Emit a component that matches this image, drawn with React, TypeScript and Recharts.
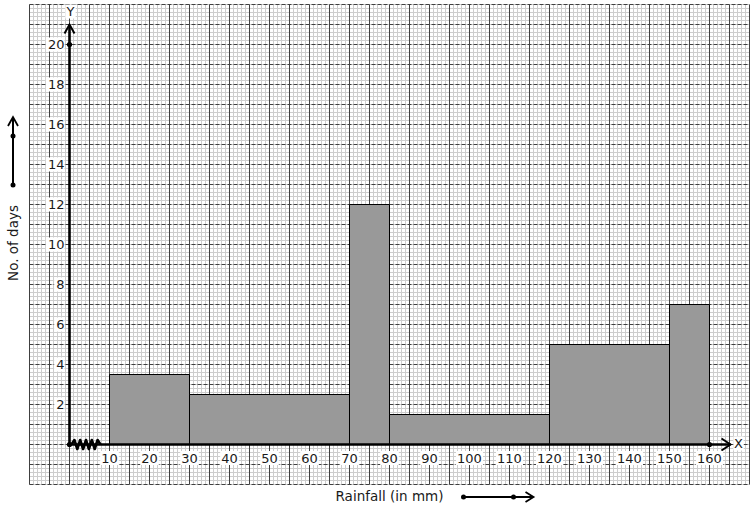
import React from 'react';
import { ComposedChart, XAxis, YAxis, ReferenceLine, ReferenceArea, ReferenceDot, Line } from 'recharts';

// ---- data ----
const binStarts = [10, 30, 70, 80, 120, 150];
const binEnds = [30, 70, 80, 120, 150, 160];
const days = [3.5, 2.5, 12, 1.5, 5, 7];
const xTickLabels = [10, 20, 30, 40, 50, 60, 70, 80, 90, 100, 110, 120, 130, 140, 150, 160];
const yTickLabels = [2, 4, 6, 8, 10, 12, 14, 16, 18, 20];
const xTitle = 'Rainfall (in mm)';
const yTitle = 'No. of days';

const X_MIN = -10;
const X_MAX = 170;
const Y_MIN = -2;
const Y_MAX = 22;

const range = (a: number, b: number, step: number) => {
  const out: number[] = [];
  const n = Math.round((b - a) / step);
  for (let i = 0; i <= n; i++) out.push(+(a + i * step).toFixed(4));
  return out;
};

const minorX = range(X_MIN, X_MAX, 1);
const majorX = range(X_MIN, X_MAX, 5);
const minorY = range(Y_MIN, Y_MAX, 0.2);
const majorY = range(Y_MIN, Y_MAX, 1);

const rows = binStarts.map((s, i) => ({ x: (s + binEnds[i]) / 2, y: days[i] }));

const FONT = '"DejaVu Sans", sans-serif';
const TXT = '#1a1a1a';

const boxText = (x: number, y: number, text: string, anchor: 'start' | 'middle' | 'end', size = 13) => {
  const w = String(text).length * size * 0.64 + 2;
  const h = size + 1;
  let left = x - w / 2;
  if (anchor === 'end') left = x - w;
  if (anchor === 'start') left = x;
  return (
    <g>
      <rect x={left} y={y - h / 2} width={w} height={h} fill="#fff" />
      <text x={x} y={y} textAnchor={anchor} dominantBaseline="central" fontFamily={FONT} fontSize={size} fill={TXT}>
        {text}
      </text>
    </g>
  );
};

// graph paper drawn inside the full-domain reference area
const Paper = (p: any) => {
  const { x, y, width, height } = p;
  const sx = (v: number) => x + ((v - X_MIN) / (X_MAX - X_MIN)) * width;
  const sy = (v: number) => y + ((Y_MAX - v) / (Y_MAX - Y_MIN)) * height;
  return (
    <g>
      <rect x={x} y={y} width={width} height={height} fill="#fff" />
      {minorX.map((v) => (
        <line key={'mx' + v} x1={sx(v)} x2={sx(v)} y1={y} y2={y + height} stroke="#cdcdcd" strokeWidth={1} />
      ))}
      {minorY.map((v) => (
        <line key={'my' + v} x1={x} x2={x + width} y1={sy(v)} y2={sy(v)} stroke="#cdcdcd" strokeWidth={1} />
      ))}
      {majorY.map((v) => (
        <line key={'My' + v} x1={x} x2={x + width} y1={sy(v)} y2={sy(v)} stroke="#404040" strokeWidth={1} strokeDasharray="4 2" />
      ))}
      {majorX.map((v) => (
        <line key={'Mx' + v} x1={sx(v)} x2={sx(v)} y1={y} y2={y + height} stroke="#404040" strokeWidth={1} />
      ))}
    </g>
  );
};

const YTitle = (props: any) => {
  const vb = props.viewBox || { x: 0, y: 0, width: 0, height: 0 };
  const cx = vb.x + 12.5;
  const cy = 243;
  return (
    <g>
      <text x={cx} y={cy} transform={`rotate(-90 ${cx} ${cy})`} textAnchor="middle" dominantBaseline="central" fontFamily={FONT} fontSize={13.5} fill={TXT}>
        {yTitle}
      </text>
      <line x1={cx} y1={185} x2={cx} y2={118} stroke="#000" strokeWidth={2} />
      <circle cx={cx} cy={185} r={2.5} fill="#000" />
      <circle cx={cx} cy={136} r={2.5} fill="#000" />
      <polyline points={`${cx - 5},${126} ${cx},${117} ${cx + 5},${126}`} fill="none" stroke="#000" strokeWidth={1.8} />
    </g>
  );
};

const XTitle = (props: any) => {
  const vb = props.viewBox || { x: 0, y: 0, width: 0, height: 0 };
  const cx = vb.x + 360;
  const cy = 496;
  const ax = vb.x + 434;
  return (
    <g>
      <text x={cx} y={cy} textAnchor="middle" dominantBaseline="central" fontFamily={FONT} fontSize={13.5} fill={TXT}>
        {xTitle}
      </text>
      <line x1={ax} y1={497} x2={ax + 69} y2={497} stroke="#000" strokeWidth={2} />
      <circle cx={ax} cy={497} r={2.5} fill="#000" />
      <circle cx={ax + 50} cy={497} r={2.5} fill="#000" />
      <polyline points={`${ax + 62},${492} ${ax + 70},${497} ${ax + 62},${502}`} fill="none" stroke="#000" strokeWidth={1.8} />
    </g>
  );
};

const Zigzag = (p: any) => {
  const { cx, cy } = p;
  const pts: string[] = [];
  for (let i = 0; i <= 10; i++) {
    const x = cx + 2 + i * 2.9;
    const y = i === 0 || i === 10 ? cy : cy + (i % 2 === 0 ? 4.5 : -4.5);
    pts.push(`${x},${y}`);
  }
  return <polyline points={pts.join(' ')} fill="none" stroke="#000" strokeWidth={2.6} strokeLinejoin="round" />;
};

const UpChevron = (p: any) => (
  <polyline points={`${p.cx - 5},${p.cy + 9} ${p.cx},${p.cy} ${p.cx + 5},${p.cy + 9}`} fill="none" stroke="#000" strokeWidth={2} />
);
const RightChevron = (p: any) => (
  <polyline points={`${p.cx - 9},${p.cy - 6} ${p.cx},${p.cy} ${p.cx - 9},${p.cy + 6}`} fill="none" stroke="#000" strokeWidth={2} />
);

export default function App() {
  return (
    <div style={{ position: 'absolute', left: 0, top: 0 }}>
      <ComposedChart width={754} height={510} data={rows} margin={{ top: 4.5, right: 4.5, bottom: 0, left: 0.5 }}>
        <XAxis
          dataKey="x"
          type="number"
          domain={[X_MIN, X_MAX]}
          allowDataOverflow
          height={25.5}
          axisLine={false}
          tick={false}
          tickLine={false}
          label={{ content: (p: any) => <XTitle {...p} /> }}
        />
        <YAxis
          type="number"
          domain={[Y_MIN, Y_MAX]}
          allowDataOverflow
          width={29}
          axisLine={false}
          tick={false}
          tickLine={false}
          label={{ content: (p: any) => <YTitle {...p} /> }}
        />
        {/* graph paper */}
        <ReferenceArea x1={X_MIN} x2={X_MAX} y1={Y_MIN} y2={Y_MAX} shape={(p: any) => <Paper {...p} />} />
        {/* histogram bars */}
        {binStarts.map((s, i) => (
          <ReferenceArea key={'bar' + i} x1={s} x2={binEnds[i]} y1={0} y2={days[i]} fill="#999999" fillOpacity={1} stroke="#000" strokeWidth={1} />
        ))}
        <Line dataKey="y" stroke="none" dot={false} activeDot={false} isAnimationActive={false} legendType="none" />
        {/* axes */}
        <ReferenceLine segment={[{ x: 0, y: 0 }, { x: 165.25, y: 0 }]} stroke="#000" strokeWidth={2.6} ifOverflow="visible" />
        <ReferenceLine segment={[{ x: 0, y: 0 }, { x: 0, y: 21 }]} stroke="#000" strokeWidth={2.6} ifOverflow="visible" />
        <ReferenceDot x={0} y={21} r={0} shape={(p: any) => <UpChevron {...p} />} ifOverflow="visible" />
        <ReferenceDot x={165.25} y={0} r={0} shape={(p: any) => <RightChevron {...p} />} ifOverflow="visible" />
        <ReferenceDot x={0} y={0} r={0} shape={(p: any) => <Zigzag {...p} />} ifOverflow="visible" />
        <ReferenceDot x={0} y={0} r={2.6} fill="#000" stroke="none" />
        <ReferenceDot x={0} y={20} r={2.6} fill="#000" stroke="none" />
        <ReferenceDot x={160} y={0} r={2.6} fill="#000" stroke="none" />
        {/* tick labels */}
        {xTickLabels.map((v) => (
          <ReferenceDot key={'xt' + v} x={v} y={0} r={0} ifOverflow="visible" shape={(p: any) => boxText(p.cx, p.cy + 13.5, String(v), 'middle')} />
        ))}
        {yTickLabels.map((v) => (
          <ReferenceDot key={'yt' + v} x={0} y={v} r={0} ifOverflow="visible" shape={(p: any) => boxText(p.cx - 5, p.cy, String(v), 'end')} />
        ))}
        <ReferenceDot x={0} y={21.65} r={0} ifOverflow="visible" shape={(p: any) => boxText(p.cx + 1, p.cy, 'Y', 'middle')} />
        <ReferenceDot x={167.25} y={0} r={0} ifOverflow="visible" shape={(p: any) => boxText(p.cx, p.cy - 1, 'X', 'middle')} />
      </ComposedChart>
    </div>
  );
}
